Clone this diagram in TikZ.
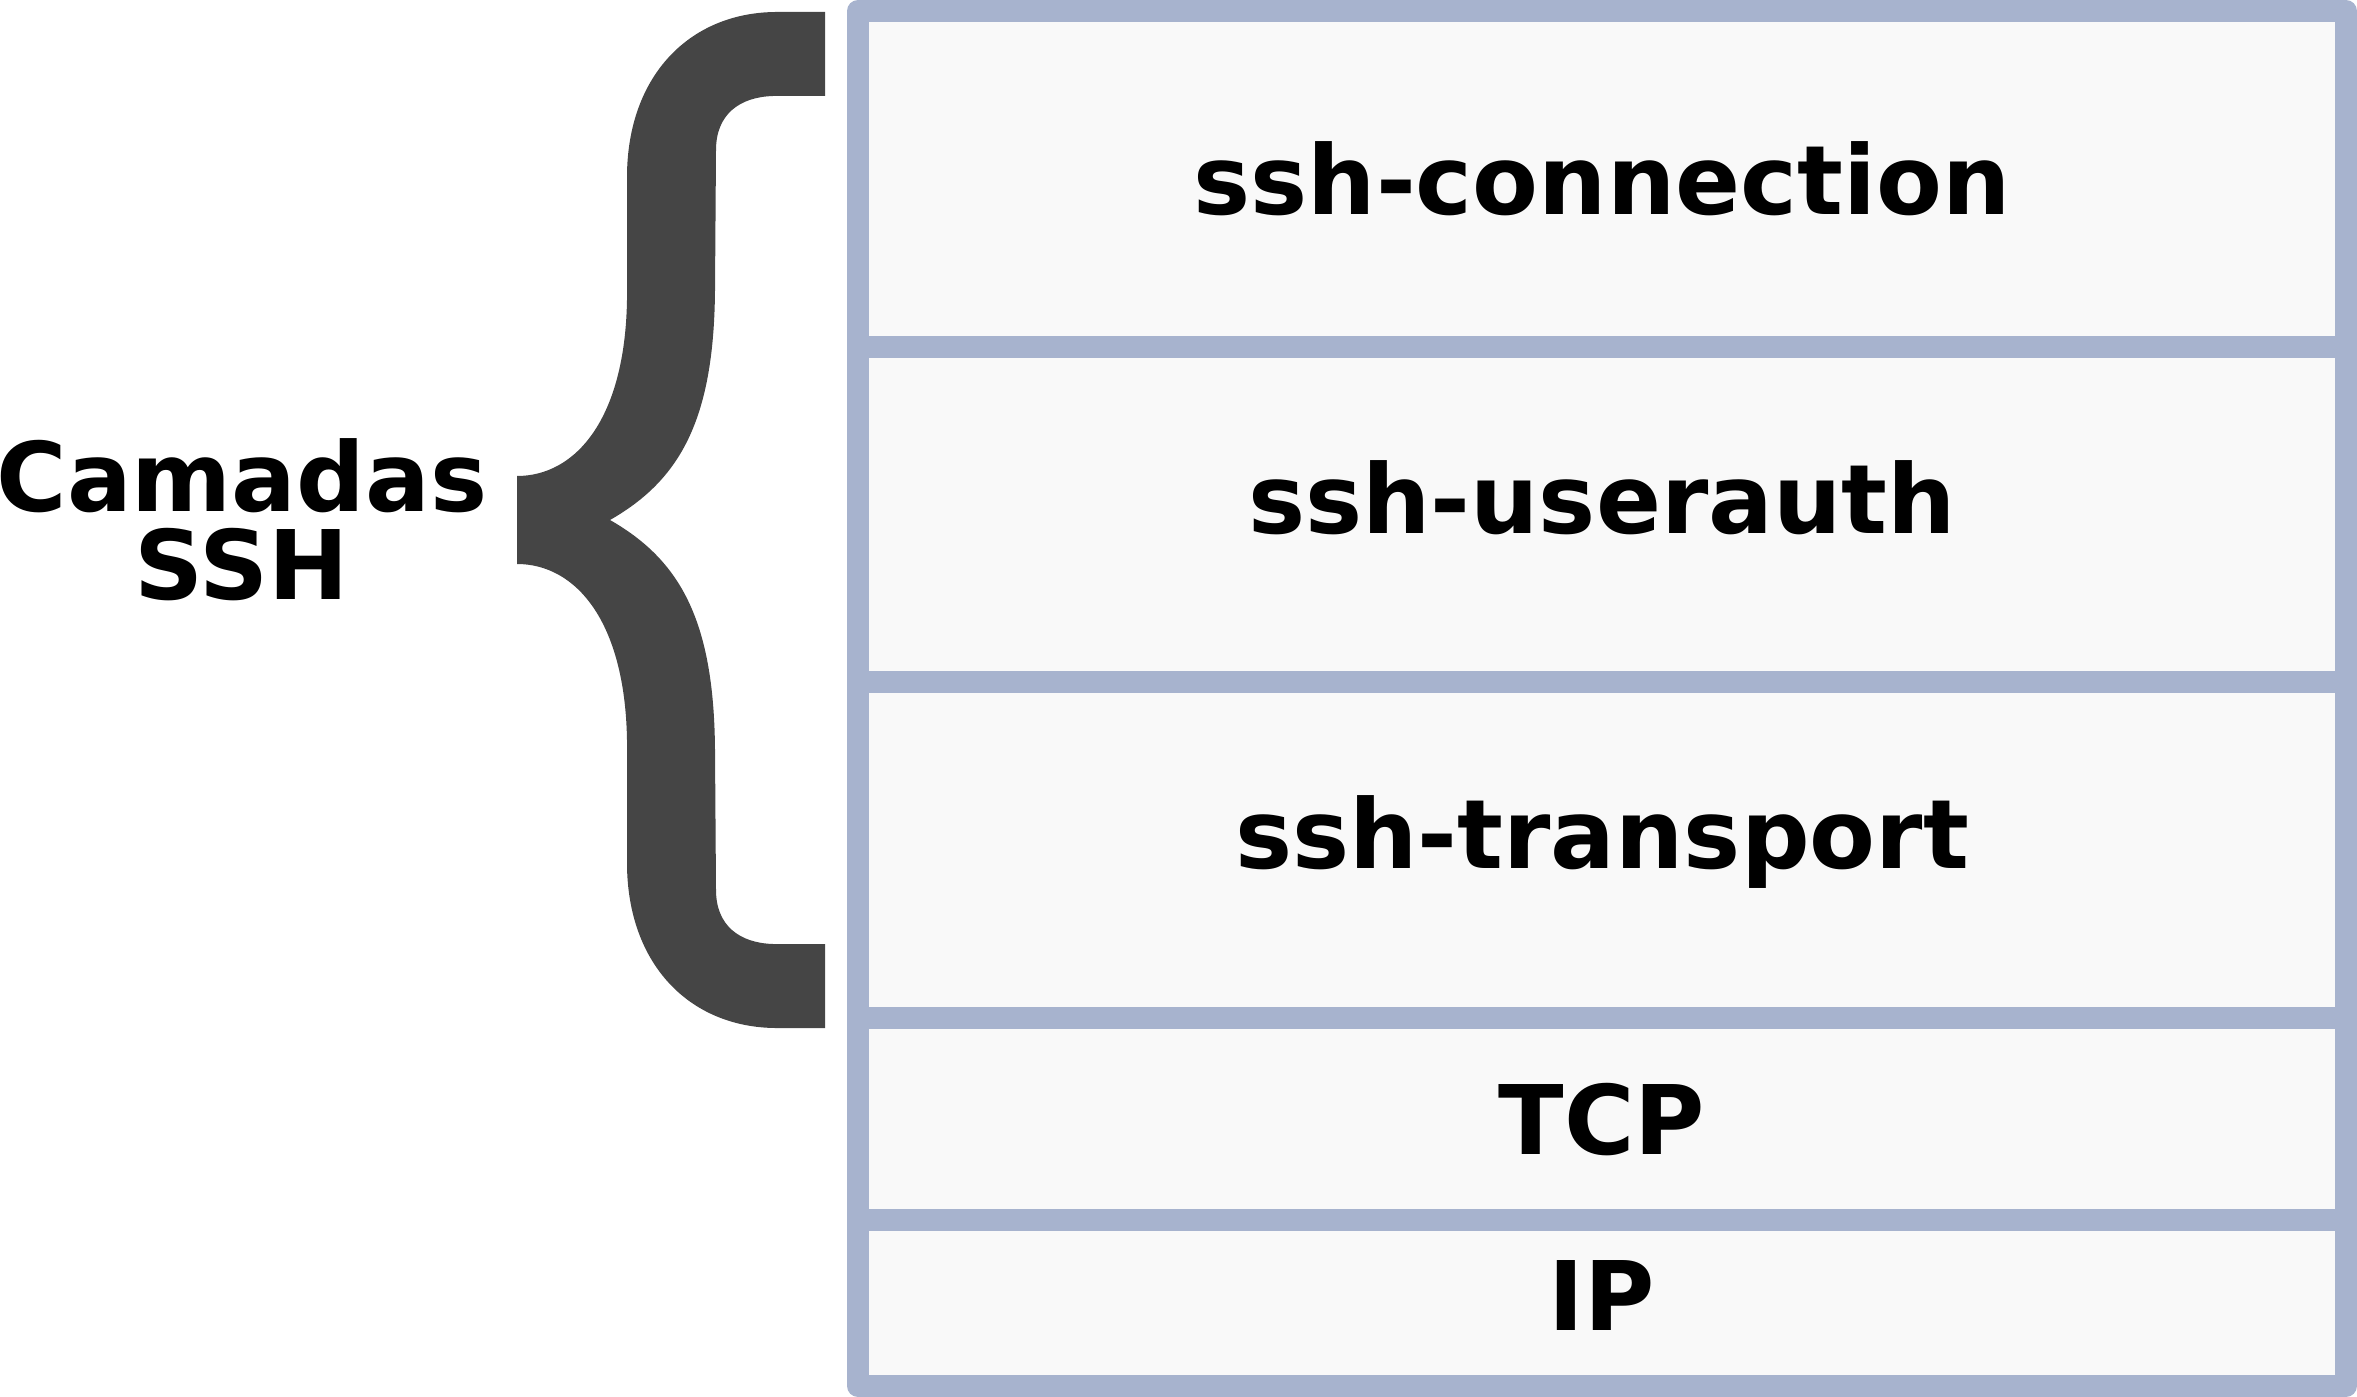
\documentclass[tikz,border=0pt]{standalone}
\usepackage{fontspec}
\setmainfont{DejaVu Sans}
\usepackage{xcolor}
\usetikzlibrary{positioning}

\definecolor{framecol}{RGB}{167,179,206}
\definecolor{cellfill}{RGB}{249,249,249}
\definecolor{bracecol}{RGB}{69,69,69}

\begin{document}
\begin{tikzpicture}[
x=0.01cm, y=-0.01cm,
stack/.style={
draw=framecol,
fill=cellfill,
line width=0.22cm,
line join=round
},
divider/.style={
draw=framecol,
line width=0.22cm
},
layer/.style={
anchor=base,
inner sep=0pt,
font=\fontsize{27.3}{31}\selectfont\bfseries
},
caption/.style={
align=center,
inner sep=0pt,
font=\fontsize{27.3}{25}\selectfont\bfseries
}
]
\useasboundingbox (0,0) rectangle (2357,1397);

% Stack of layers
\draw[stack] (858,11) rectangle (2346,1386);
\foreach \y in {347,682,1018,1220}
\draw[divider] (858,\y) -- (2346,\y);

% Layer names
\node[layer] (conn) at (1602,215) {ssh-connection};
\node[layer] (userauth) at (1602,533) {ssh-userauth};
\node[layer] (transport) at (1602,868) {ssh-transport};
\node[layer] (tcp) at (1602,1154) {TCP};
\node[layer] (ip) at (1602,1330) {IP};

% Brace
\fill[bracecol] (517,476) .. controls (575,476) and (625,420) .. (627,300)
-- (627,175) .. controls (628,75) and (690,13) .. (775,12)
-- (825,12) -- (825,96) -- (773,96)
.. controls (740,97) and (716,114) .. (716,150)
-- (715,290) .. controls (714,420) and (680,480) .. (610,520)
.. controls (680,560) and (714,620) .. (715,750)
-- (716,890) .. controls (716,926) and (740,943) .. (773,944)
-- (825,944) -- (825,1028) -- (775,1028)
.. controls (690,1027) and (628,965) .. (627,865)
-- (627,740) .. controls (625,620) and (575,564) .. (517,564)
-- cycle;

% Caption
\node[caption] (layers) at (242,520) {Camadas\\SSH};

\end{tikzpicture}
\end{document}
